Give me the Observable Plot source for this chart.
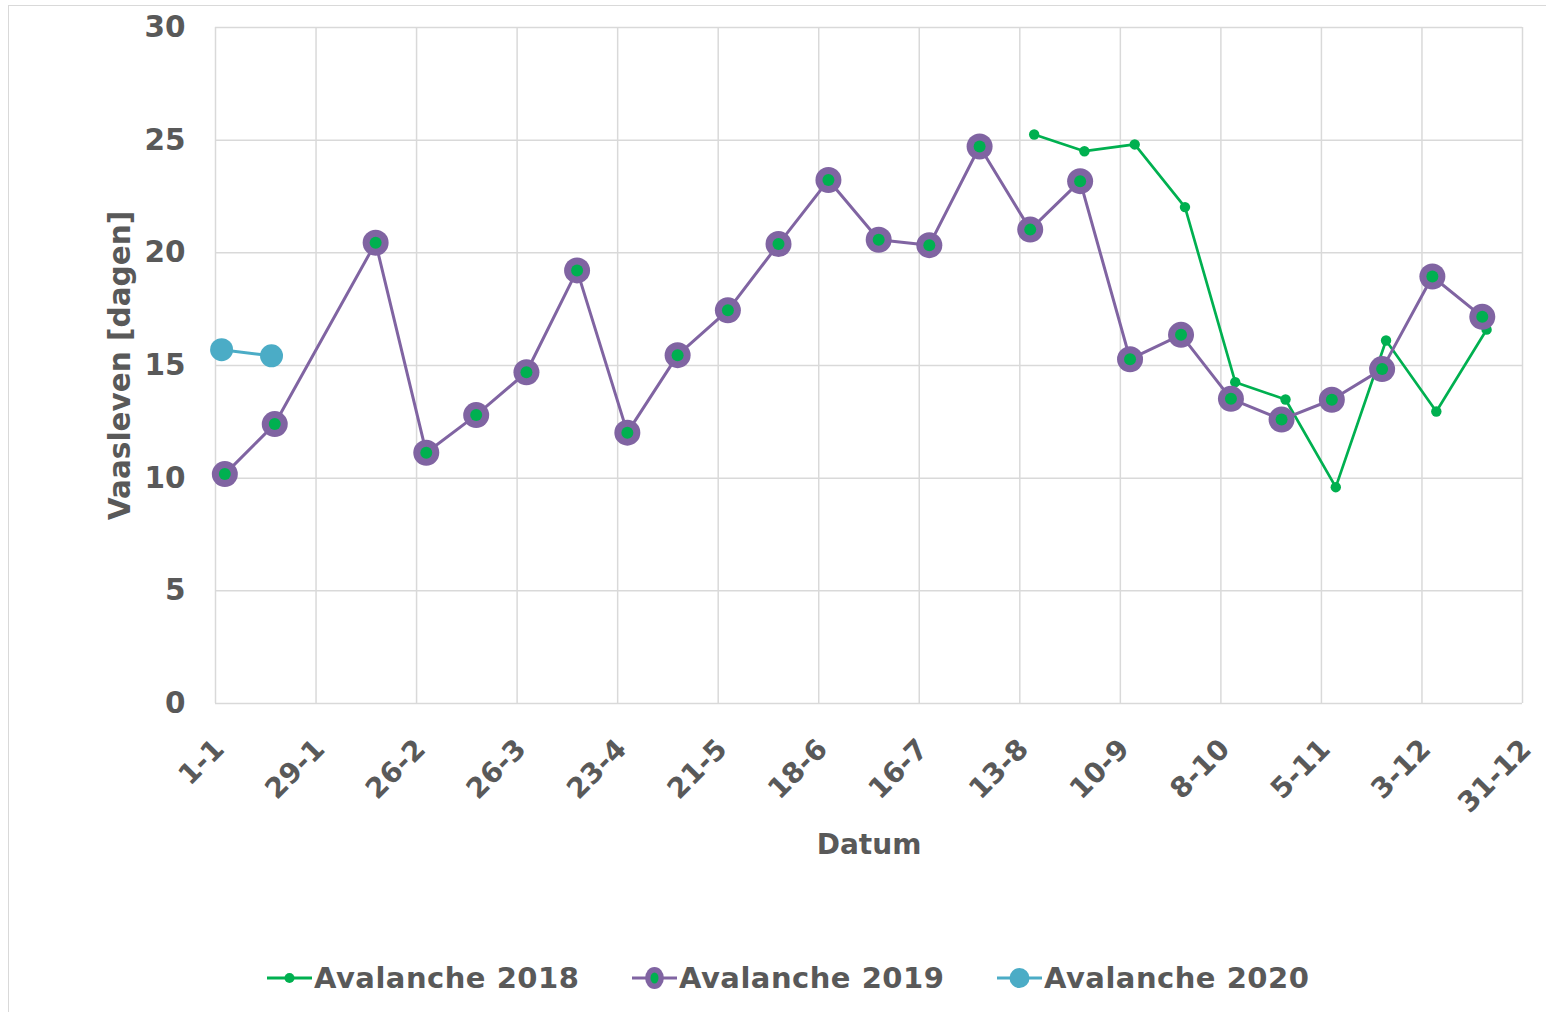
<!DOCTYPE html>
<html>
<head>
<meta charset="utf-8">
<script src="https://cdn.jsdelivr.net/npm/d3@7"></script>
<script src="https://cdn.jsdelivr.net/npm/@observablehq/plot@0.6"></script>
<style>
  html, body { margin: 0; padding: 0; background: #fff; }
  body { width: 1546px; height: 1012px; position: relative; overflow: hidden; font-family: "DejaVu Sans", Verdana, sans-serif; }
  #frame { position: absolute; left: 8px; top: 5px; width: 1560px; height: 1020px; border: 1.5px solid #d9d9d9; box-sizing: border-box; pointer-events: none; }
  #chart { position: absolute; left: 0; top: 0; }
  .leg { position: absolute; top: 962px; height: 32px; display: flex; align-items: center; font-weight: bold; font-size: 29px; letter-spacing: 0.5px; color: #595959; white-space: nowrap; }
  .leg svg { display: block; margin-right: 2px; }
</style>
</head>
<body>
<div id="frame"></div>
<div id="chart"></div>
<div id="legend"></div>
<script>
// x = day of year (0 = 1-1)
const xTickDays = [0, 28, 56, 84, 112, 140, 168, 196, 224, 252, 280, 308, 336, 364];
const xTickLabels = ["1-1", "29-1", "26-2", "26-3", "23-4", "21-5", "18-6", "16-7", "13-8", "10-9", "8-10", "5-11", "3-12", "31-12"];
const yTicks = [0, 5, 10, 15, 20, 25, 30];

const days2018 = [228, 242, 256, 270, 284, 298, 312, 326, 340, 354];
const vals2018 = [25.25, 24.51, 24.81, 22.03, 14.26, 13.49, 9.60, 16.11, 12.96, 16.59];

const days2019 = [2.6, 16.5, 44.6, 58.7, 72.6, 86.6, 100.7, 114.7, 128.7, 142.7, 156.8, 170.7, 184.7, 198.8, 212.8, 226.9, 240.8, 254.7, 268.9, 282.8, 296.9, 310.9, 324.9, 338.9, 352.8];
const vals2019 = [10.18, 12.4, 20.45, 11.13, 12.8, 14.7, 19.22, 12.02, 15.46, 17.45, 20.39, 23.23, 20.58, 20.34, 24.72, 21.03, 23.18, 15.28, 16.36, 13.52, 12.6, 13.48, 14.84, 18.95, 17.16];

const days2020 = [1.7, 15.6];
const vals2020 = [15.70, 15.43];

const seriesNames = ["Avalanche 2018", "Avalanche 2019", "Avalanche 2020"];
const colors = {green: "#00b050", purple: "#8064a2", blue: "#4bacc6", grid: "#d9d9d9", text: "#595959"};

const d2018 = days2018.map((d, i) => ({day: d, v: vals2018[i]}));
const d2019 = days2019.map((d, i) => ({day: d, v: vals2019[i]}));
const d2020 = days2020.map((d, i) => ({day: d, v: vals2020[i]}));
const xTicks = xTickDays.map((d, i) => ({day: d, label: xTickLabels[i]}));

const chart = Plot.plot({
  width: 1546,
  height: 880,
  marginLeft: 215,
  marginRight: 24,
  marginTop: 27,
  marginBottom: 177,
  style: {fontFamily: "DejaVu Sans, Verdana, sans-serif", background: "transparent", overflow: "visible"},
  x: {domain: [0, 364], axis: null},
  y: {domain: [0, 30], axis: null},
  marks: [
    Plot.ruleY(yTicks, {stroke: colors.grid, strokeWidth: 1.5}),
    Plot.ruleX(xTickDays, {stroke: colors.grid, strokeWidth: 1.5}),
    Plot.text(yTicks, {y: d => d, frameAnchor: "left", text: d => String(d), textAnchor: "end", dx: -30, fontSize: 29.5, fontWeight: "bold", fill: colors.text, lineAnchor: "middle"}),
    Plot.text(xTicks, {x: "day", y: () => 0, text: "label", rotate: -45, textAnchor: "end", lineAnchor: "middle", dx: 4, dy: 41, fontSize: 28, fontWeight: "bold", fill: colors.text, style: "letter-spacing:3px"}),
    Plot.text(["Vaasleven [dagen]"], {frameAnchor: "left", text: d => d, rotate: -90, dx: -95, fontSize: 29.5, fontWeight: "bold", fill: colors.text, lineAnchor: "middle", textAnchor: "middle"}),
    Plot.text(["Datum"], {frameAnchor: "bottom", text: d => d, dy: 142, fontSize: 28, fontWeight: "bold", fill: colors.text, lineAnchor: "middle"}),
    // 2018
    Plot.line(d2018, {x: "day", y: "v", stroke: colors.green, strokeWidth: 2.7}),
    Plot.dot(d2018, {x: "day", y: "v", r: 5.2, fill: colors.green, stroke: "none"}),
    // 2019
    Plot.line(d2019, {x: "day", y: "v", stroke: colors.purple, strokeWidth: 3}),
    Plot.dot(d2019, {x: "day", y: "v", r: 13, fill: colors.purple, stroke: "none"}),
    Plot.dot(d2019, {x: "day", y: "v", r: 6, fill: colors.green, stroke: "none"}),
    // 2020
    Plot.line(d2020, {x: "day", y: "v", stroke: colors.blue, strokeWidth: 3}),
    Plot.dot(d2020, {x: "day", y: "v", r: 11.5, fill: colors.blue, stroke: "none"})
  ]
});
document.getElementById("chart").appendChild(chart);

// legend
const legend = document.getElementById("legend");
const legItems = [
  {name: seriesNames[0], left: 267, line: colors.green, outer: colors.green, rOuter: 5, inner: null},
  {name: seriesNames[1], left: 632, line: colors.purple, outer: colors.purple, rOuter: 11, inner: colors.green},
  {name: seriesNames[2], left: 997, line: colors.blue, outer: colors.blue, rOuter: 10, inner: null}
];
legItems.forEach(it => {
  const div = document.createElement("div");
  div.className = "leg";
  div.style.left = it.left + "px";
  const ns = "http://www.w3.org/2000/svg";
  const svg = document.createElementNS(ns, "svg");
  svg.setAttribute("width", 45); svg.setAttribute("height", 32);
  const ln = document.createElementNS(ns, "line");
  ln.setAttribute("x1", 0); ln.setAttribute("x2", 45); ln.setAttribute("y1", 16); ln.setAttribute("y2", 16);
  ln.setAttribute("stroke", it.line); ln.setAttribute("stroke-width", 3);
  svg.appendChild(ln);
  const c = document.createElementNS(ns, "ellipse");
  c.setAttribute("cx", 22.5); c.setAttribute("cy", 16); c.setAttribute("rx", it.rOuter * (it.inner ? 0.85 : 1)); c.setAttribute("ry", it.rOuter);
  c.setAttribute("fill", it.outer);
  svg.appendChild(c);
  if (it.inner) {
    const c2 = document.createElementNS(ns, "ellipse");
    c2.setAttribute("cx", 22.5); c2.setAttribute("cy", 16); c2.setAttribute("rx", 4); c2.setAttribute("ry", 5.5);
    c2.setAttribute("fill", it.inner);
    svg.appendChild(c2);
  }
  div.appendChild(svg);
  const span = document.createElement("span");
  span.textContent = it.name;
  div.appendChild(span);
  legend.appendChild(div);
});
</script>
</body>
</html>
